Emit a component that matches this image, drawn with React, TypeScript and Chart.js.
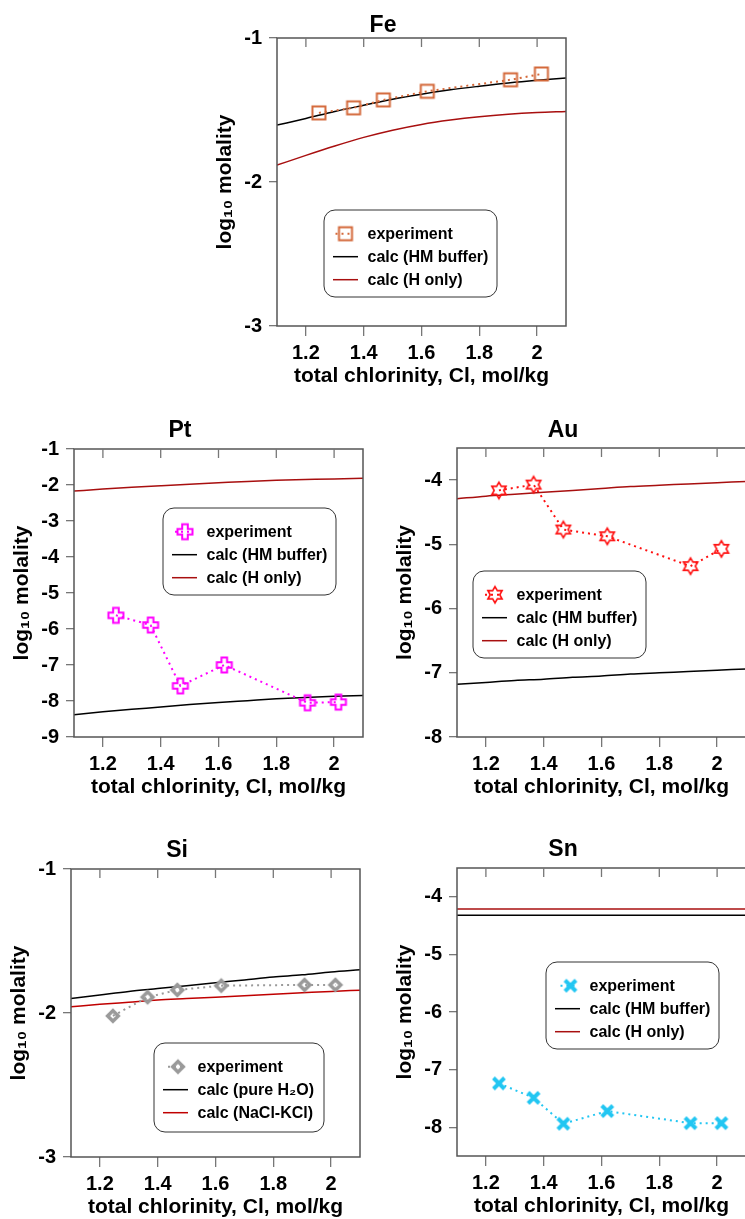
import React, { useEffect, useRef } from 'react';
import { Chart, registerables } from 'chart.js';
Chart.register(...registerables);

const FONT = '"Liberation Sans", Arial, Helvetica, sans-serif';

// ---- data ----
const EXP_CL = [1.245, 1.365, 1.468, 1.62, 1.908, 2.015];
const CALC_CL = [1.1, 1.2, 1.3, 1.4, 1.5, 1.6, 1.7, 1.8, 1.9, 2.0, 2.1];
const X_TICKS = [1.2, 1.4, 1.6, 1.8, 2.0];

const FE_EXP = [-1.52, -1.485, -1.43, -1.37, -1.29, -1.25];
const FE_HM = [-1.605, -1.559, -1.51, -1.467, -1.425, -1.39, -1.36, -1.335, -1.312, -1.293, -1.277];
const FE_H = [-1.883, -1.815, -1.75, -1.69, -1.64, -1.6, -1.57, -1.547, -1.53, -1.518, -1.51];
const FE_YTICKS = [-3, -2, -1];

const PT_EXP = [-5.62, -5.89, -7.58, -7.0, -8.05, -8.03];
const PT_HM = [-8.38, -8.3, -8.23, -8.17, -8.1, -8.04, -7.99, -7.94, -7.9, -7.87, -7.85];
const PT_H = [-2.17, -2.11, -2.06, -2.02, -1.98, -1.94, -1.9, -1.87, -1.85, -1.83, -1.815];
const PT_YTICKS = [-9, -8, -7, -6, -5, -4, -3, -2, -1];

const AU_EXP = [-4.16, -4.07, -4.77, -4.875, -5.34, -5.07];
const AU_HM = [-7.18, -7.15, -7.12, -7.1, -7.07, -7.05, -7.02, -7.0, -6.98, -6.96, -6.94];
const AU_H = [-4.29, -4.25, -4.22, -4.19, -4.16, -4.13, -4.1, -4.08, -4.06, -4.04, -4.02];
const AU_YTICKS = [-8, -7, -6, -5, -4];

const SI_EXP = [-2.02, -1.89, -1.84, -1.81, -1.805, -1.805];
const SI_PURE = [-1.9, -1.875, -1.85, -1.83, -1.81, -1.79, -1.77, -1.75, -1.735, -1.715, -1.7];
const SI_NACL = [-1.956, -1.94, -1.925, -1.91, -1.9, -1.89, -1.88, -1.87, -1.86, -1.85, -1.842];
const SI_YTICKS = [-3, -2, -1];

const SN_EXP = [-7.24, -7.49, -7.94, -7.72, -7.93, -7.93];
const SN_HM = [-4.32, -4.32, -4.32, -4.32, -4.32, -4.32, -4.32, -4.32, -4.32, -4.32, -4.32];
const SN_H = [-4.21, -4.21, -4.21, -4.21, -4.21, -4.21, -4.21, -4.21, -4.21, -4.21, -4.21];
const SN_YTICKS = [-8, -7, -6, -5, -4];

const LABELS_HM = ['experiment', 'calc (HM buffer)', 'calc (H only)'];
const LABELS_SI = ['experiment', 'calc (pure H\u2082O)', 'calc (NaCl-KCl)'];

const X_TITLE = 'total chlorinity, Cl, mol/kg';
const Y_TITLE = 'log\u2081\u2080 molality';

type PanelDef = {
  title: string;
  exp: number[];
  calcA: number[];
  calcB: number[];
  labels: string[];
  yMin: number;
  yMax: number;
  yTicks: number[];
  marker: string;
  color: string;
  redColor: string;
  plotL: number;
  plotT: number;
  plotW: number;
  plotH: number;
  titleGap: number;
  leg: { dx: number; dy: number; w: number; h: number; mx: number };
};

const PANELS: PanelDef[] = [
  { title: 'Fe', exp: FE_EXP, calcA: FE_HM, calcB: FE_H, labels: LABELS_HM, yMin: -3, yMax: -1, yTicks: FE_YTICKS,
    marker: 'square', color: '#D4693A', redColor: '#A80F0F',
    plotL: 277, plotT: 38, plotW: 289, plotH: 288, titleGap: 12,
    leg: { dx: 47, dy: 172, w: 173, h: 87, mx: 21.5 } },
  { title: 'Pt', exp: PT_EXP, calcA: PT_HM, calcB: PT_H, labels: LABELS_HM, yMin: -9, yMax: -1, yTicks: PT_YTICKS,
    marker: 'plus', color: '#FF00FF', redColor: '#A80F0F',
    plotL: 74, plotT: 449, plotW: 289, plotH: 288, titleGap: 18,
    leg: { dx: 89, dy: 59, w: 173, h: 87, mx: 22 } },
  { title: 'Au', exp: AU_EXP, calcA: AU_HM, calcB: AU_H, labels: LABELS_HM, yMin: -8, yMax: -3.5, yTicks: AU_YTICKS,
    marker: 'star', color: '#FF1010', redColor: '#A80F0F',
    plotL: 457, plotT: 448, plotW: 289, plotH: 289, titleGap: 17,
    leg: { dx: 16, dy: 123, w: 173, h: 87, mx: 22 } },
  { title: 'Si', exp: SI_EXP, calcA: SI_PURE, calcB: SI_NACL, labels: LABELS_SI, yMin: -3, yMax: -1, yTicks: SI_YTICKS,
    marker: 'diamond', color: '#9A9A9A', redColor: '#C00000',
    plotL: 71, plotT: 869, plotW: 289, plotH: 288, titleGap: 18,
    leg: { dx: 83, dy: 174, w: 170, h: 89, mx: 24 } },
  { title: 'Sn', exp: SN_EXP, calcA: SN_HM, calcB: SN_H, labels: LABELS_HM, yMin: -8.5, yMax: -3.5, yTicks: SN_YTICKS,
    marker: 'x', color: '#22C6F2', redColor: '#A80F0F',
    plotL: 457, plotT: 868, plotW: 289, plotH: 288, titleGap: 18.5,
    leg: { dx: 89, dy: 94, w: 173, h: 87, mx: 24.5 } },
];

const Y_AXIS_W = 77;
const TOP_H = 38;
const X_AXIS_H = 66;
const RIGHT_PAD = 14;

function makeMarker(kind: string, color: string): HTMLCanvasElement {
  const c = document.createElement('canvas');
  const S = 22;
  c.width = S;
  c.height = S;
  const g = c.getContext('2d')!;
  g.translate(S / 2, S / 2);
  g.strokeStyle = color;
  g.fillStyle = color;
  g.lineJoin = 'miter';
  if (kind === 'square') {
    g.lineWidth = 2;
    g.strokeRect(-6.5, -6.5, 13, 13);
  } else if (kind === 'plus') {
    g.lineWidth = 2;
    const a = 7.5, b = 2.8;
    const pts = [[-b, -a], [b, -a], [b, -b], [a, -b], [a, b], [b, b], [b, a], [-b, a], [-b, b], [-a, b], [-a, -b], [-b, -b]];
    g.beginPath();
    pts.forEach((p, i) => (i ? g.lineTo(p[0], p[1]) : g.moveTo(p[0], p[1])));
    g.closePath();
    g.stroke();
  } else if (kind === 'star') {
    g.lineWidth = 1.6;
    const R = 8.2, r = R / Math.sqrt(3);
    g.beginPath();
    for (let i = 0; i < 12; i++) {
      const ang = (-90 + i * 30) * Math.PI / 180;
      const rad = i % 2 === 0 ? R : r;
      const x = Math.cos(ang) * rad, y = Math.sin(ang) * rad;
      i ? g.lineTo(x, y) : g.moveTo(x, y);
    }
    g.closePath();
    g.stroke();
  } else if (kind === 'diamond') {
    g.lineWidth = 3.5;
    const d = 5.3;
    g.beginPath();
    g.moveTo(0, -d); g.lineTo(d, 0); g.lineTo(0, d); g.lineTo(-d, 0);
    g.closePath();
    g.stroke();
  } else if (kind === 'x') {
    g.lineWidth = 4;
    g.lineCap = 'butt';
    const d = 5.5;
    g.beginPath();
    g.moveTo(-d, -d); g.lineTo(d, d);
    g.moveTo(d, -d); g.lineTo(-d, d);
    g.stroke();
  }
  return c;
}

function Panel({ p }: { p: PanelDef }) {
  const ref = useRef<HTMLCanvasElement>(null);
  const cw = Y_AXIS_W + p.plotW + RIGHT_PAD;
  const ch = TOP_H + p.plotH + X_AXIS_H;
  const left = p.plotL - Y_AXIS_W;
  const top = p.plotT - TOP_H;

  useEffect(() => {
    const marker = makeMarker(p.marker, p.color);
    const framePlugin = {
      id: 'frame' + p.title,
      afterDraw(chart: any) {
        const { ctx, chartArea } = chart;
        const xs = chart.scales.x;
        ctx.save();
        ctx.strokeStyle = '#555';
        ctx.lineWidth = 1.5;
        ctx.strokeRect(chartArea.left, chartArea.top, chartArea.right - chartArea.left, chartArea.bottom - chartArea.top);
        ctx.strokeStyle = '#777';
        ctx.lineWidth = 1.3;
        ctx.beginPath();
        xs.ticks.forEach((t: any) => {
          const px = xs.getPixelForValue(t.value);
          ctx.moveTo(px, chartArea.top);
          ctx.lineTo(px, chartArea.top + 9);
        });
        ctx.stroke();

        // legend box
        const L = p.leg;
        const x0 = chartArea.left + L.dx;
        const y0 = chartArea.top + L.dy;
        ctx.fillStyle = '#fff';
        ctx.strokeStyle = '#333';
        ctx.lineWidth = 1;
        ctx.beginPath();
        (ctx as any).roundRect(x0, y0, L.w, L.h, 11);
        ctx.fill();
        ctx.stroke();
        const rowY = (i: number) => y0 + 23.7 + i * 23;
        ctx.font = `bold 16px ${FONT}`;
        ctx.textBaseline = 'middle';
        ctx.textAlign = 'left';
        chart.data.datasets.forEach((ds: any, i: number) => {
          const y = rowY(i);
          if (i === 0) {
            ctx.strokeStyle = p.color;
            ctx.lineWidth = 2;
            ctx.setLineDash([2, 4]);
            ctx.beginPath();
            ctx.moveTo(x0 + L.mx - 10, y);
            ctx.lineTo(x0 + L.mx + 8, y);
            ctx.stroke();
            ctx.setLineDash([]);
            ctx.drawImage(marker, x0 + L.mx - marker.width / 2, y - marker.height / 2);
          } else {
            ctx.strokeStyle = ds.borderColor;
            ctx.lineWidth = 1.5;
            ctx.beginPath();
            ctx.moveTo(x0 + 9, y);
            ctx.lineTo(x0 + 34, y);
            ctx.stroke();
          }
          ctx.fillStyle = '#000';
          ctx.fillText(ds.label, x0 + 43.5, y + 0.5);
        });
        ctx.restore();
      },
    };

    const chart = new Chart(ref.current as HTMLCanvasElement, {
      type: 'line',
      data: {
        datasets: [
          {
            label: p.labels[0],
            data: EXP_CL.map((x, i) => ({ x, y: p.exp[i] })),
            borderColor: p.color,
            borderWidth: 2,
            borderDash: [2, 4],
            pointStyle: marker as any,
            pointRadius: 8,
            pointHoverRadius: 8,
            tension: 0,
            order: 0,
          },
          {
            label: p.labels[1],
            data: CALC_CL.map((x, i) => ({ x, y: p.calcA[i] })),
            borderColor: '#000000',
            borderWidth: 1.5,
            pointRadius: 0,
            cubicInterpolationMode: 'monotone',
            order: 1,
          },
          {
            label: p.labels[2],
            data: CALC_CL.map((x, i) => ({ x, y: p.calcB[i] })),
            borderColor: p.redColor,
            borderWidth: 1.5,
            pointRadius: 0,
            cubicInterpolationMode: 'monotone',
            order: 2,
          },
        ],
      },
      options: {
        responsive: false,
        animation: false,
        devicePixelRatio: 1,
        layout: { padding: { left: 0, right: RIGHT_PAD, top: 0, bottom: 0 } },
        plugins: {
          legend: { display: false },
          tooltip: { enabled: false },
          title: {
            display: true,
            text: p.title,
            color: '#000',
            font: { family: FONT, size: 23, weight: 'bold', lineHeight: 1 },
            padding: { top: TOP_H - p.titleGap - 11.5, bottom: p.titleGap - 11.5 },
          },
        },
        scales: {
          x: {
            type: 'linear',
            min: 1.1,
            max: 2.1,
            afterBuildTicks: (s: any) => { s.ticks = X_TICKS.map((v) => ({ value: v })); },
            ticks: {
              color: '#000',
              padding: 5,
              maxRotation: 0,
              autoSkip: false,
              font: { family: FONT, size: 20, weight: 'bold' },
              callback: (v: any) => String(Number(Number(v).toFixed(1))),
            },
            grid: { drawOnChartArea: false, drawTicks: true, tickLength: 10, color: '#777', lineWidth: 1.3 },
            border: { display: false },
            title: {
              display: true,
              text: X_TITLE,
              color: '#000',
              font: { family: FONT, size: 21, weight: 'bold' },
              padding: { top: 0, bottom: 3 },
            },
            afterFit: (s: any) => { s.height = X_AXIS_H; },
          },
          y: {
            type: 'linear',
            min: p.yMin,
            max: p.yMax,
            afterBuildTicks: (s: any) => { s.ticks = p.yTicks.map((v) => ({ value: v })); },
            ticks: {
              color: '#000',
              padding: 7,
              autoSkip: false,
              font: { family: FONT, size: 20, weight: 'bold' },
              callback: (v: any) => String(v),
            },
            grid: { drawOnChartArea: false, drawTicks: true, tickLength: 8, color: '#777', lineWidth: 1.3 },
            border: { display: false },
            title: {
              display: true,
              text: Y_TITLE,
              color: '#000',
              font: { family: FONT, size: 21, weight: 'bold' },
              padding: { top: 13, bottom: 0 },
            },
            afterFit: (s: any) => { s.width = Y_AXIS_W; },
          },
        },
      },
      plugins: [framePlugin],
    } as any);
    return () => chart.destroy();
  }, []);

  return (
    <canvas
      ref={ref}
      width={cw}
      height={ch}
      style={{ position: 'absolute', left, top, width: cw, height: ch }}
    />
  );
}

export default function App() {
  useEffect(() => {
    document.body.style.margin = '0';
  }, []);
  return (
    <div style={{ position: 'relative', width: 745, height: 1219, overflow: 'hidden', background: '#fff' }}>
      {PANELS.map((p) => (
        <Panel key={p.title} p={p} />
      ))}
    </div>
  );
}
